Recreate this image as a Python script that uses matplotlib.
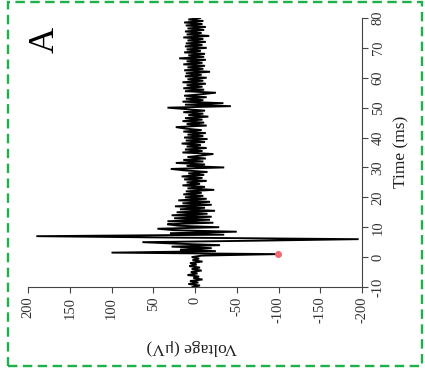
import numpy as np
import matplotlib
matplotlib.use("Agg")
import matplotlib.pyplot as plt
from matplotlib.patches import Rectangle

plt.rcParams['font.family'] = ['Liberation Serif', 'DejaVu Serif']
plt.rcParams['axes.unicode_minus'] = False

# Sampling grid (ms)
time_start, time_step = -10.0, 0.5

# Voltage (uV), one value per 0.5 ms from -10 to 80 ms
v_pre = [3, -6, 8, -4, 6, -9, 2, -5, 9, -3, 5, -8, 4, -6, 7, -2, 6, -9, 3, -5]  # -10 .. -0.5
v_early = [4, -8, -99, 100, -25, 18, -20, 28, -30, 22, 63, -76, -196, 15, 190, -35,
           30, -50, 25, 45, -29, 20, 33, -22, 33, -18, 25, -20, 28, -15, 22, -24,
           18, -12, 24, -20, 15, -18, 20, -14]  # 0 .. 19.5
v_late = [12, -10, 14, -8, 11, -23, 9, -12, 15, -6, 10, -14, 13, -9, 16, -11, 8, -15, 12, 29,
          -35, 10, -12, 23, -10, 14, -13, 9, -8, -22, 15, -9, 12, -14, 10, -7, 16, -12, 11, -15,
          13, -10, 9, -13, 14, -8, 12, 23, -14, 10, -11, 15, -9, 12, -16, 8, -10, 14, -12, 10,
          33, -43, 12, -34, 15, -10, 11, -14, 13, -8, -25, 12, -11, 14, -9, 10, -13, 15, -10, 9,
          -14, 12, -8, 11, -18, 13, -10, 9, -12, 14, -9, 10, -13, 19, -11, 8, -12, 13, -7, 10,
          -14, 12, -9, 11, -13, 9, -10, 14, -17, 10, -8, 12, -11, 9, -13, 11, -9, 13, -10, 8,
          -6]  # 20 .. 80
voltage = np.array(v_pre + v_early + v_late, dtype=float)
time = time_start + time_step * np.arange(len(voltage))

# Marked point (stimulus artifact)
marker_time = [1.0]
marker_voltage = [-99]

x_ticks = [200, 150, 100, 50, 0, -50, -100, -150, -200]
y_ticks = [-10, 0, 10, 20, 30, 40, 50, 60, 70, 80]

W, H = 425, 374
fig = plt.figure(figsize=(W / 100, H / 100), dpi=100)
ax = fig.add_axes([28 / W, 1 - 287 / H, 334 / W, 269 / H])

ax.plot(voltage, time, color='black', lw=1.35, solid_joinstyle='miter')
ax.plot(marker_voltage, marker_time, 'o', color='#f06a72', ms=4, zorder=3)

ax.set_xlim(200, -200)
ax.set_ylim(-10, 80)
ax.set_xticks(x_ticks)
ax.set_xticklabels([str(v) for v in x_ticks], rotation=90)
ax.yaxis.tick_right()
ax.set_yticks(y_ticks)
ax.set_yticklabels([str(v) for v in y_ticks], rotation=90, va='center')
for s in ['top', 'left']:
    ax.spines[s].set_visible(False)
for s in ['bottom', 'right']:
    ax.spines[s].set_color('#444444')
    ax.spines[s].set_linewidth(0.8)
ax.tick_params(axis='both', direction='out', length=4, width=0.8, colors='#444444',
               labelcolor='#333333', labelsize=10.5, pad=3)
ax.set_facecolor('none')

fig.text(401 / W, 1 - 152 / H, 'Time (ms)', rotation=90, ha='center', va='center',
         fontsize=12.5, color='#222222')
fig.text(192 / W, 1 - 347 / H, 'Voltage (μV)', rotation=180, ha='center', va='center',
         fontsize=12.5, color='#222222')
fig.text(45 / W, 1 - 40 / H, 'A', rotation=90, ha='center', va='center',
         fontsize=26, color='black')

border = Rectangle((8.3 / W, 1 - 366 / H), (421.5 - 8.3) / W, (366 - 1.5) / H,
                   transform=fig.transFigure, fill=False, edgecolor='#1eb14a',
                   lw=1.7, linestyle=(0, (4, 2.3)))
fig.add_artist(border)

fig.savefig('out.png', dpi=100)
